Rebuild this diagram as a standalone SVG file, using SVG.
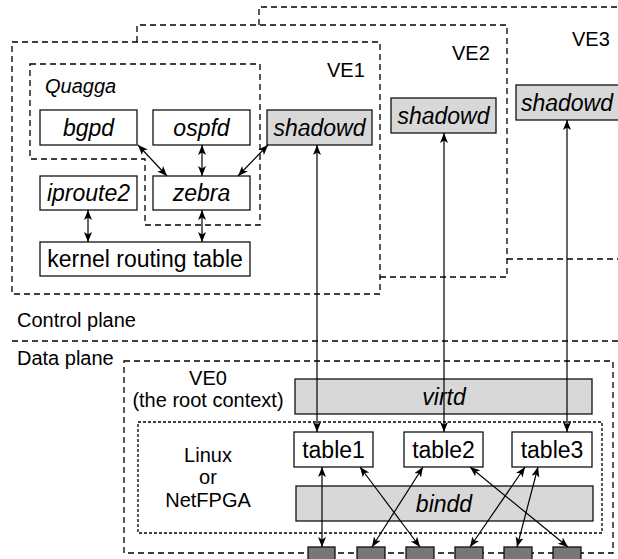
<svg xmlns="http://www.w3.org/2000/svg" width="618" height="559" viewBox="0 0 618 559">
<style>
  text { font-family: "Liberation Sans", Arial, sans-serif; font-size: 20px; fill: #000; }
  .lb { font-size: 23px; }
  .it { font-style: italic; }
  .mid { text-anchor: middle; }
  .box { fill: #fff; stroke: #111; stroke-width: 1.3; }
  .gray { fill: #d8d8d8; stroke: #111; stroke-width: 1.3; }
  .port { fill: #777; stroke: #111; stroke-width: 1.3; }
  .dash { fill: none; stroke: #000; stroke-width: 1.3; stroke-dasharray: 6 4; }
  .dot { fill: none; stroke: #000; stroke-width: 1.3; stroke-dasharray: 3 2; }
  .conn line { stroke: #000; stroke-width: 1.2; marker-start: url(#ah); marker-end: url(#ah); }
</style>
<defs>
  <marker id="ah" markerUnits="userSpaceOnUse" markerWidth="11" markerHeight="9" refX="10" refY="4" orient="auto-start-reverse">
    <path d="M0,0 L10,4 L0,8 L2.5,4 z" fill="#000"/>
  </marker>
</defs>

<g id="containers">
  <path class="dash" d="M259,25 V7 H618 M507,259 H618"/>
  <path class="dash" d="M137,42 V25 H507 V277 H380"/>
  <rect class="dash" x="12" y="42" width="368" height="252"/>
  <path class="dash" d="M30,64 H260 V225 H145 V159 H30 Z"/>
  <line class="dash" x1="12" y1="341" x2="618" y2="341"/>
  <rect class="dash" x="124" y="361" width="489" height="192"/>
  <rect class="dot" x="138" y="422" width="464" height="111"/>
</g>

<g id="labels">
  <text x="327" y="77">VE1</text>
  <text x="452" y="60">VE2</text>
  <text x="572" y="46">VE3</text>
  <text class="it" x="45" y="93">Quagga</text>
  <text x="17" y="327">Control plane</text>
  <text x="17" y="365">Data plane</text>
  <text class="mid" x="208" y="385">VE0</text>
  <text class="mid" x="208" y="407">(the root context)</text>
  <text class="mid" x="208" y="462">Linux</text>
  <text class="mid" x="208" y="484">or</text>
  <text class="mid" x="208" y="507">NetFPGA</text>
</g>

<g id="bgpd"><rect class="box" x="40" y="110" width="97" height="35"/><text class="lb it mid" x="88.5" y="135.5">bgpd</text></g>
<g id="ospfd"><rect class="box" x="153" y="110" width="97" height="35"/><text class="lb it mid" x="201.5" y="135.5">ospfd</text></g>
<g id="shadowd1"><rect class="gray" x="267" y="110" width="105" height="35"/><text class="lb it mid" x="319.5" y="135.5">shadowd</text></g>
<g id="shadowd2"><rect class="gray" x="391" y="98" width="105" height="35"/><text class="lb it mid" x="443.5" y="123.5">shadowd</text></g>
<g id="shadowd3"><rect class="gray" x="516" y="85" width="104" height="35"/><text class="lb it mid" x="567" y="110.5">shadowd</text></g>
<g id="zebra"><rect class="box" x="153" y="176" width="97" height="34"/><text class="lb it mid" x="201.5" y="201">zebra</text></g>
<g id="iproute2"><rect class="box" x="40" y="176" width="97" height="34"/><text class="lb it mid" x="88.5" y="201">iproute2</text></g>
<g id="kernel"><rect class="box" x="40" y="242" width="210" height="34"/><text class="lb mid" x="145" y="267">kernel routing table</text></g>
<g id="virtd"><rect class="gray" x="295" y="379" width="297" height="35"/><text class="lb it mid" x="444" y="404.5">virtd</text></g>
<g id="table1"><rect class="box" x="294" y="432" width="79" height="35"/><text class="lb mid" x="333.5" y="457.5">table1</text></g>
<g id="table2"><rect class="box" x="404" y="432" width="79" height="35"/><text class="lb mid" x="443.5" y="457.5">table2</text></g>
<g id="table3"><rect class="box" x="512" y="432" width="80" height="35"/><text class="lb mid" x="552" y="457.5">table3</text></g>
<g id="bindd"><rect class="gray" x="296" y="486" width="297" height="35"/><text class="lb it mid" x="444" y="511.5">bindd</text></g>
<g id="ports">
  <rect class="port" x="308" y="547" width="27" height="16"/>
  <rect class="port" x="357" y="547" width="28" height="16"/>
  <rect class="port" x="406" y="547" width="28" height="16"/>
  <rect class="port" x="455" y="547" width="28" height="16"/>
  <rect class="port" x="504" y="547" width="28" height="16"/>
  <rect class="port" x="553" y="547" width="28" height="16"/>
</g>

<g id="connectors" class="conn">
  <line x1="317" y1="145" x2="317" y2="432"/>
  <line x1="444" y1="133" x2="444" y2="432"/>
  <line x1="567" y1="120" x2="567" y2="432"/>
  <line x1="138" y1="145" x2="167" y2="176"/>
  <line x1="202" y1="145" x2="202" y2="176"/>
  <line x1="268" y1="145" x2="238" y2="176"/>
  <line x1="88" y1="210" x2="88" y2="242"/>
  <line x1="202" y1="210" x2="202" y2="242"/>
  <line x1="322" y1="467" x2="322" y2="547"/>
  <line x1="360" y1="467" x2="420" y2="547"/>
  <line x1="423" y1="467" x2="372" y2="547"/>
  <line x1="470" y1="467" x2="568" y2="547"/>
  <line x1="525" y1="467" x2="470" y2="547"/>
  <line x1="538" y1="467" x2="517" y2="547"/>
</g>
</svg>
